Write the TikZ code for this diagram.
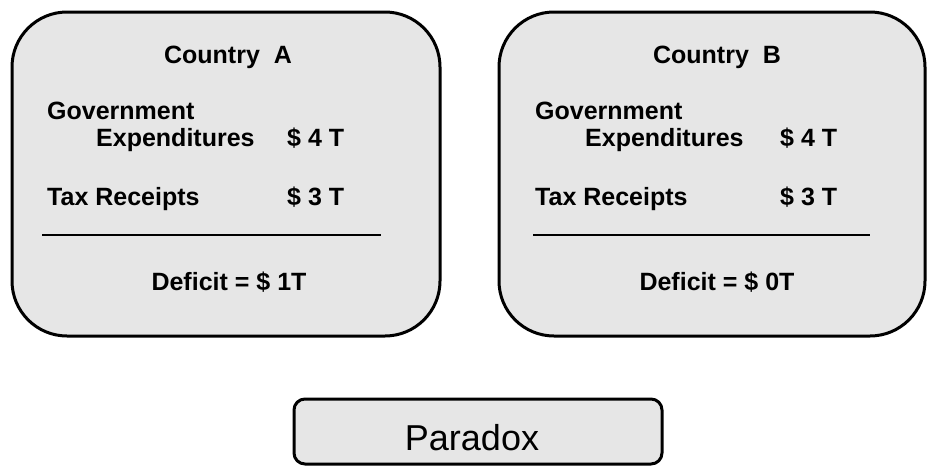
\documentclass[tikz,border=0pt]{standalone}
\usepackage{fontspec}
\setmainfont{Liberation Sans}
\definecolor{boxfill}{HTML}{E6E6E6}
\begin{document}
\begin{tikzpicture}[x=1pt,y=-1pt,
  panel/.style={draw=black,line width=3pt,fill=boxfill,rounded corners=55pt},
  smallpanel/.style={draw=black,line width=3pt,fill=boxfill,rounded corners=11pt},
  lbl/.style={inner sep=0pt,font=\fontsize{25}{30}\selectfont\bfseries},
  rule/.style={line width=2pt}]
\useasboundingbox (0,0) rectangle (927,466);
% Country A
\draw[panel] (12,12) rectangle (440,336);
\node[lbl,anchor=base] (titleA) at (228,63) {Country\ \ A};
\node[lbl,anchor=base west] (govA) at (47,119) {Government};
\node[lbl,anchor=base west] (expA) at (96,146) {Expenditures};
\node[lbl,anchor=base west] (exvA) at (287,146) {\$ 4 T};
\node[lbl,anchor=base west] (taxA) at (47,205) {Tax Receipts};
\node[lbl,anchor=base west] (txvA) at (287,205) {\$ 3 T};
\coordinate (rlA) at (42,235);
\coordinate (rrA) at (381,235);
\draw[rule] (rlA) -- (rrA);
\node[lbl,anchor=base] (defA) at (229,290) {Deficit = \$ 1T};
% Country B
\draw[panel] (499,12) rectangle (925,336);
\node[lbl,anchor=base] (titleB) at (717,63) {Country\ \ B};
\node[lbl,anchor=base west] (govB) at (535,119) {Government};
\node[lbl,anchor=base west] (expB) at (585,146) {Expenditures};
\node[lbl,anchor=base west] (exvB) at (780,146) {\$ 4 T};
\node[lbl,anchor=base west] (taxB) at (535,205) {Tax Receipts};
\node[lbl,anchor=base west] (txvB) at (780,205) {\$ 3 T};
\coordinate (rlB) at (533,235);
\coordinate (rrB) at (870,235);
\draw[rule] (rlB) -- (rrB);
\node[lbl,anchor=base] (defB) at (717,290) {Deficit = \$ 0T};
% Paradox
\draw[smallpanel] (294,399) rectangle (662,464);
\node[inner sep=0pt,anchor=base,font=\fontsize{36}{40}\selectfont] (paradox) at (472,450) {Paradox};
\end{tikzpicture}
\end{document}
